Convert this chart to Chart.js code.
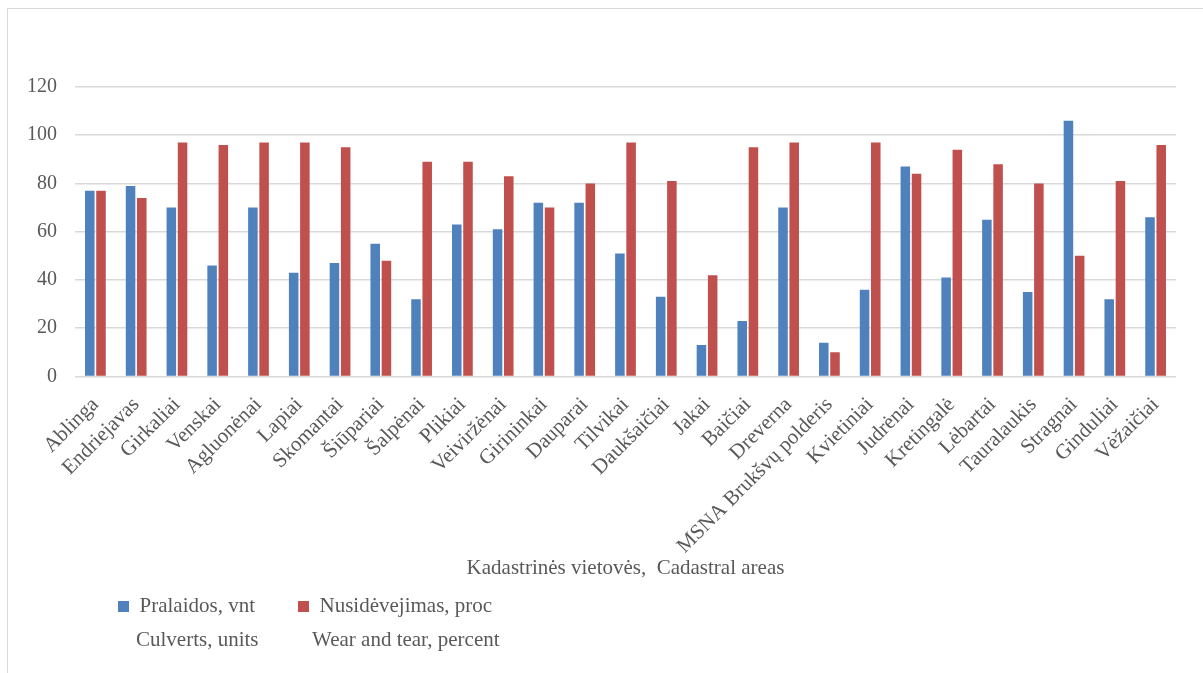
<!DOCTYPE html>
<html>
<head>
<meta charset="utf-8">
<script src="https://cdn.jsdelivr.net/npm/chart.js@4/dist/chart.umd.min.js"></script>
<style>
  html, body { margin: 0; padding: 0; background: #fff; overflow: hidden; }
  #frame { position: absolute; left: 7px; top: 8px; width: 1300px; height: 800px;
           border-left: 1px solid #d9d9d9; border-top: 1px solid #d9d9d9; }
  #chart { position: absolute; left: 0; top: 0; }
</style>
</head>
<body>
<div id="frame"></div>
<canvas id="chart" width="1203" height="673"></canvas>
<script>
const categories = ["Ablinga", "Endriejavas", "Girkaliai", "Venskai", "Agluonėnai", "Lapiai", "Skomantai",
    "Šiūpariai", "Šalpėnai", "Plikiai", "Veiviržėnai", "Girininkai", "Dauparai", "Tilvikai", "Daukšaičiai",
    "Jakai", "Baičiai", "Dreverna", "MSNA Brukšvų polderis", "Kvietiniai", "Judrėnai", "Kretingalė",
    "Lėbartai", "Tauralaukis", "Stragnai", "Ginduliai", "Vėžaičiai"];
const culverts = [77, 79, 70, 46, 70, 43, 47, 55, 32, 63, 61, 72, 72, 51, 33, 13, 23, 70, 14, 36, 87, 41, 65, 35, 106, 32, 66];
const wear = [77, 74, 97, 96, 97, 97, 95, 48, 89, 89, 83, 70, 80, 97, 81, 42, 95, 97, 10, 97, 84, 94, 88, 80, 50, 81, 96];
const seriesNames = ["Pralaidos, vnt", "Nusidėvejimas, proc"];
const seriesSubtitles = ["Culverts, units", "Wear and tear, percent"];
const axisTitle = "Kadastrinės vietovės,  Cadastral areas";
const yMin = 0, yMax = 120, yStep = 20;

const serif = "'Times New Roman', 'Liberation Serif', serif";
const textColor = '#595959';
const gridColor = '#d9d9d9';

// second legend line (English translation) under each legend entry
const legendSubtitles = {
    id: 'legendSubtitles',
    afterDraw(chart) {
        const legend = chart.legend;
        if (!legend || !legend.legendHitBoxes) return;
        const ctx = chart.ctx;
        const opts = legend.options.labels;
        const size = opts.font.size;
        ctx.save();
        ctx.font = size + 'px ' + serif;
        ctx.fillStyle = textColor;
        ctx.textAlign = 'center';
        ctx.textBaseline = 'middle';
        legend.legendHitBoxes.forEach((box, i) => {
            const textX = box.left + opts.boxWidth + size / 2;
            const firstWidth = ctx.measureText(legend.legendItems[i].text).width;
            ctx.fillText(seriesSubtitles[i], textX + firstWidth / 2, box.top + box.height / 2 + 34);
        });
        ctx.restore();
    }
};

new Chart(document.getElementById('chart'), {
    type: 'bar',
    data: {
        labels: categories,
        datasets: [
            { label: seriesNames[0], data: culverts, backgroundColor: '#4f81bd' },
            { label: seriesNames[1], data: wear, backgroundColor: '#c0504d' }
        ]
    },
    options: {
        responsive: false,
        animation: false,
        categoryPercentage: 0.55,
        barPercentage: 0.85,
        layout: { padding: { top: 87, left: 9, right: 27, bottom: 46 } },
        plugins: {
            tooltip: { enabled: false },
            legend: {
                position: 'bottom',
                align: 'start',
                fullSize: false,
                labels: {
                    boxWidth: 11,
                    boxHeight: 11,
                    padding: 43,
                    color: textColor,
                    font: { family: serif, size: 21 }
                }
            }
        },
        scales: {
            x: {
                grid: { display: false, drawTicks: false },
                border: { display: false },
                ticks: {
                    color: textColor,
                    font: { family: serif, size: 21 },
                    minRotation: 45,
                    maxRotation: 45,
                    autoSkip: false,
                    padding: 16
                },
                title: {
                    display: true,
                    text: axisTitle,
                    color: textColor,
                    font: { family: serif, size: 21 },
                    padding: { top: -19, bottom: -28 }
                },
                // let the rotated first label hang over the y axis instead of pushing the plot right
                afterFit(scale) {
                    scale.paddingLeft = 0;
                    scale.paddingRight = 0;
                }
            },
            y: {
                min: yMin,
                max: yMax,
                grid: { color: gridColor, lineWidth: 1.5, drawTicks: false },
                border: { display: false },
                ticks: {
                    stepSize: yStep,
                    color: textColor,
                    font: { family: serif, size: 20 },
                    padding: 18
                }
            }
        }
    },
    plugins: [legendSubtitles]
});
</script>
</body>
</html>
